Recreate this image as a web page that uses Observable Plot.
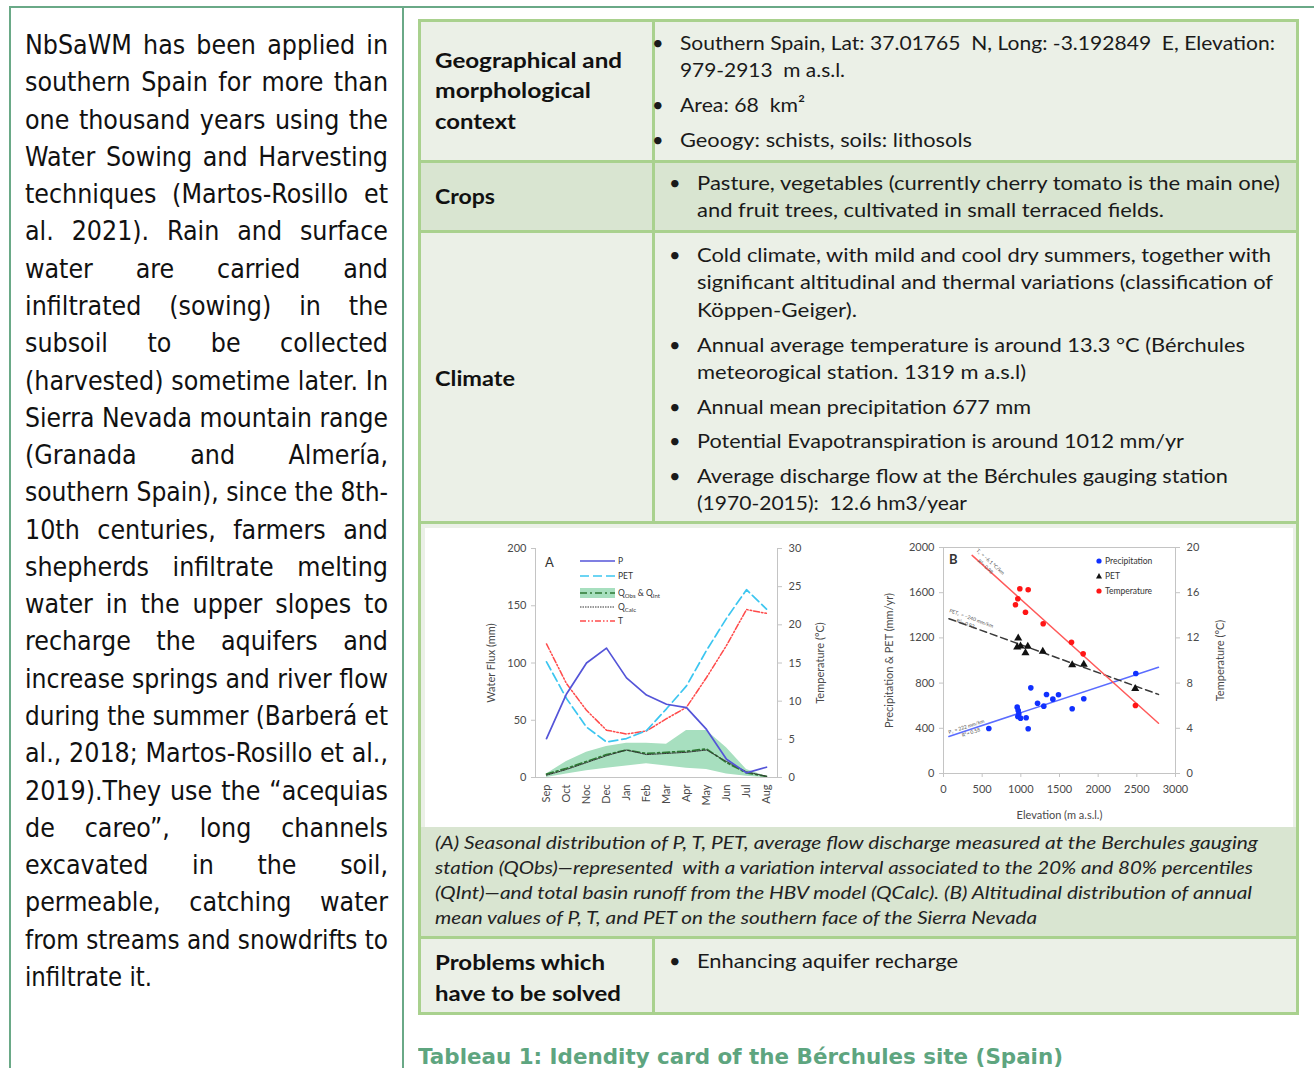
<!DOCTYPE html>
<html><head><meta charset="utf-8">
<script src="https://cdn.jsdelivr.net/npm/d3@7"></script>
<script src="https://cdn.jsdelivr.net/npm/@observablehq/plot@0.6"></script>
<style>
html,body{margin:0;padding:0;background:#fff;}
#page{position:relative;width:1314px;height:1068px;overflow:hidden;background:#fff;}
.a{position:absolute;}
.ln{position:absolute;white-space:nowrap;transform-origin:0 50%;}
.para{font-family:"DejaVu Sans",sans-serif;font-stretch:condensed;font-size:26.5px;color:#111;}
.reg{font-family:Lato,sans-serif;font-size:20px;color:#1a1a1a;}
.bold{font-family:Lato,sans-serif;font-weight:700;font-size:21px;color:#111;}
.ital{font-family:Lato,sans-serif;font-style:italic;font-size:18px;color:#222;}
.ttl{font-family:"DejaVu Sans",sans-serif;font-weight:700;font-size:22px;color:#5ea57f;}
.hl{position:absolute;background:#a9d18e;}
.pl{position:absolute;background:#6aa987;}
</style></head>
<body><div id="page"></div>
<script>
// ---------- Chart A data (seasonal) ----------
const months = ["Sep","Oct","Noc","Dec","Jan","Feb","Mar","Apr","May","Jun","Jul","Aug"];
const P_mm   = [34, 73, 100, 113, 87, 72, 64, 61, 42, 16, 4, 9];
const PET_mm = [101, 69, 44, 31, 34, 41, 60, 80, 111, 139, 164, 147];
const T_c    = [17.5, 12.3, 8.8, 6.2, 5.7, 6.1, 7.7, 9.2, 13.1, 17.3, 22.0, 21.5];
const Q_obs  = [3, 8, 14, 20, 24, 21, 22, 23, 25, 13, 4, 1];
const Q_calc = [2, 7, 13, 19, 24, 20, 21, 22, 24, 14, 5, 1];
const Q_int_lo = [0, 3, 6, 8, 10, 12, 10, 8, 7, 3, 1, 0];
const Q_int_hi = [3, 14, 22, 27, 30, 30, 29, 41, 41, 26, 7, 1];
const fluxTicks = [0, 50, 100, 150, 200];
const tempTicksA = [0, 5, 10, 15, 20, 25, 30];

// ---------- Chart B data (altitudinal) ----------
const precipElev = [586, 953, 966, 974, 961, 996, 1069, 1095, 1129, 1216, 1297, 1332, 1414, 1487, 1664, 1814, 2487];
const precipVal  = [398, 587, 558, 528, 504, 490, 493, 396, 758, 622, 596, 699, 658, 697, 573, 661, 885];
const petElev = [966, 953, 996, 1090, 1060, 1284, 1664, 1814, 2479];
const petVal  = [1197, 1118, 1127, 1124, 1068, 1080, 962, 965, 750];
const tempElev = [987, 1095, 961, 931, 1060, 1289, 1655, 1806, 2482];
const tempVal  = [16.35, 16.26, 15.46, 14.93, 14.27, 13.25, 11.62, 10.59, 6.02];
const precipTrendElev = [70, 2780], precipTrendVal = [328, 940];
const petTrendElev = [70, 2780],    petTrendVal = [1370, 700];
const tempTrendElev = [370, 2780],  tempTrendVal = [19.3, 4.45];
const elevTicks = [0, 500, 1000, 1500, 2000, 2500, 3000];
const ppTicks = [0, 400, 800, 1200, 1600, 2000];
const tempTicksB = [0, 4, 8, 12, 16, 20];

// ---------- text ----------
const paraLines = [
"NbSaWM has been applied in","southern Spain for more than","one thousand years using the",
"Water Sowing and Harvesting","techniques (Martos-Rosillo et","al. 2021). Rain and surface",
"water are carried and","infiltrated (sowing) in the","subsoil to be collected",
"(harvested) sometime later. In","Sierra Nevada mountain range","(Granada and Almería,",
"southern Spain), since the 8th-","10th centuries, farmers and","shepherds infiltrate melting",
"water in the upper slopes to","recharge the aquifers and","increase springs and river flow",
"during the summer (Barberá et","al., 2018; Martos-Rosillo et al.,","2019).They use the “acequias",
"de careo”, long channels","excavated in the soil,","permeable, catching water",
"from streams and snowdrifts to","infiltrate it."];

const page = document.getElementById("page");
function box(cls, x, y, w, h, bg) {
  const d = document.createElement("div");
  d.className = cls; d.style.left = x+"px"; d.style.top = y+"px";
  d.style.width = w+"px"; d.style.height = h+"px";
  if (bg) d.style.background = bg;
  page.appendChild(d); return d;
}
function addLine(html, cls, x, cy, w, justify) {
  const el = document.createElement("div");
  el.className = "ln " + cls;
  el.innerHTML = html;
  page.appendChild(el);
  const fs = parseFloat(getComputedStyle(el).fontSize);
  const lh = Math.round(fs * 1.3);
  el.style.lineHeight = lh + "px"; el.style.height = lh + "px";
  el.style.left = x + "px"; el.style.top = (cy - lh / 2) + "px";
  if (w) {
    const w0 = el.getBoundingClientRect().width;
    const gaps = el.textContent.trim().split(/\s+/).length - 1;
    if (justify && w0 < w && gaps > 0) el.style.wordSpacing = ((w - w0) / gaps) + "px";
    else el.style.transform = `scaleX(${w / w0})`;
  }
  return el;
}

// page borders
box("pl", 10, 6, 1304, 2);
box("pl", 9, 6, 2, 1062);
box("pl", 402, 6, 2, 1062);

// left paragraph
paraLines.forEach((t, i) => {
  const last = i === paraLines.length - 1;
  addLine(t, "para", 25, 45 + i * 37.28, last ? 127 : 363, !last);
});

// table backgrounds
const L = 418, R = 1297, C = 652;
const light = "#ebf0e7", dark = "#d9e5d1";
box("a", L, 19, R - L, 141, light);
box("a", L, 160, R - L, 70, dark);
box("a", L, 230, R - L, 292, light);
box("a", L, 522, R - L, 306, light);
box("a", 425, 528, 868, 299, "#ffffff");
box("a", L, 827, R - L, 110, dark);
box("a", L, 937, R - L, 76, light);
// table borders
[19, 160, 230, 521, 936, 1012].forEach(y => box("hl", L, y, R - L + 2, 2.5));
box("hl", L, 19, 2.5, 995);
box("hl", R - 1, 19, 2.5, 995);
box("hl", C, 19, 2.5, 503);
box("hl", C, 937, 2.5, 76);

// row 1
addLine("Geographical and", "bold", 435, 59, 187);
addLine("morphological", "bold", 435, 89, 156);
addLine("context", "bold", 435, 120, 81);
addLine("•", "reg", 652, 42);
addLine("Southern Spain, Lat: 37.01765&nbsp; N, Long: -3.192849&nbsp; E, Elevation:", "reg", 680, 42, 595);
addLine("979-2913&nbsp; m a.s.l.", "reg", 680, 69, 165);
addLine("•", "reg", 652, 104);
addLine("Area: 68&nbsp; km²", "reg", 680, 104, 125);
addLine("•", "reg", 652, 139);
addLine("Geoogy: schists, soils: lithosols", "reg", 680, 139, 292);
// row 2
addLine("Crops", "bold", 435, 195, 60);
addLine("•", "reg", 669, 182);
addLine("Pasture, vegetables (currently cherry tomato is the main one)", "reg", 697, 182, 583);
addLine("and fruit trees, cultivated in small terraced fields.", "reg", 697, 209, 467);
// row 3
addLine("Climate", "bold", 435, 377, 80);
[254, 344, 406, 440, 475].forEach(y => addLine("•", "reg", 669, y));
addLine("Cold climate, with mild and cool dry summers, together with", "reg", 697, 254, 574);
addLine("significant altitudinal and thermal variations (classification of", "reg", 697, 281, 576);
addLine("Köppen-Geiger).", "reg", 697, 309, 160);
addLine("Annual average temperature is around 13.3 °C (Bérchules", "reg", 697, 344, 548);
addLine("meteorogical station. 1319 m a.s.l)", "reg", 697, 371, 329);
addLine("Annual mean precipitation 677 mm", "reg", 697, 406, 334);
addLine("Potential Evapotranspiration is around 1012 mm/yr", "reg", 697, 440, 487);
addLine("Average discharge flow at the Bérchules gauging station", "reg", 697, 475, 531);
addLine("(1970-2015):&nbsp; 12.6 hm3/year", "reg", 697, 502, 270);
// caption
addLine("(A) Seasonal distribution of P, T, PET, average flow discharge measured at the Berchules gauging", "ital", 435, 842, 823);
addLine("station (QObs)—represented&nbsp; with a variation interval associated to the 20% and 80% percentiles", "ital", 435, 867, 818);
addLine("(QInt)—and total basin runoff from the HBV model (QCalc). (B) Altitudinal distribution of annual", "ital", 435, 892, 817);
addLine("mean values of P, T, and PET on the southern face of the Sierra Nevada", "ital", 435, 917, 602);
// problems
addLine("Problems which", "bold", 435, 961, 170);
addLine("have to be solved", "bold", 435, 992, 186);
addLine("•", "reg", 669, 960);
addLine("Enhancing aquifer recharge", "reg", 697, 960, 261);
// title
addLine("Tableau 1: Idendity card of the Bérchules site (Spain)", "ttl", 418, 1056, 645);

// ---------- Chart A ----------
const dataA = months.map((m, i) => ({m, p: P_mm[i], pet: PET_mm[i], t: T_c[i], qobs: Q_obs[i], qcalc: Q_calc[i], lo: Q_int_lo[i], hi: Q_int_hi[i]}));
const axisStyle = {fontFamily: "Lato, sans-serif", fontSize: "11px", color: "#4a4a4a", background: "transparent", overflow: "visible"};
const chartA = Plot.plot({
  width: 370, height: 280,
  marginLeft: 65, marginRight: 63, marginTop: 13, marginBottom: 38,
  style: axisStyle,
  x: {type: "point", domain: months, padding: 0.5},
  y: {domain: [0, 200]},
  marks: [
    Plot.areaY(dataA, {x: "m", y1: "lo", y2: "hi", fill: "#a7dfbf"}),
    Plot.line(dataA, {x: "m", y: "qobs", stroke: "#2e7a34", strokeWidth: 1.7, strokeDasharray: "7,3,2,3"}),
    Plot.line(dataA, {x: "m", y: "qcalc", stroke: "#333", strokeWidth: 1, strokeDasharray: "1.5,1"}),
    Plot.line(dataA, {x: "m", y: d => d.t * 200 / 30, stroke: "#ff4b4b", strokeWidth: 1.5, strokeDasharray: "6,2,1.5,2,1.5,2"}),
    Plot.line(dataA, {x: "m", y: "pet", stroke: "#3cc6f0", strokeWidth: 1.7, strokeDasharray: "9,4"}),
    Plot.line(dataA, {x: "m", y: "p", stroke: "#5454d8", strokeWidth: 1.7}),
    Plot.frame({anchor: "left", stroke: "#c4c4c4"}),
    Plot.frame({anchor: "right", stroke: "#c4c4c4"}),
    Plot.frame({anchor: "bottom", stroke: "#c4c4c4"}),
    Plot.axisY(fluxTicks, {anchor: "left", tickSize: 4, tickPadding: 5, stroke: "#c4c4c4", label: "Water Flux (mm)", labelAnchor: "center", labelArrow: "none", labelOffset: 48}),
    Plot.axisY(tempTicksA.map(t => t * 200 / 30), {anchor: "right", tickSize: 4, tickPadding: 7, stroke: "#c4c4c4", tickFormat: d => Math.round(d * 30 / 200), label: "Temperature (°C)", labelAnchor: "center", labelArrow: "none", labelOffset: 46}),
    Plot.axisX({tickRotate: -90, tickSize: 0, tickPadding: 7, label: null, fontSize: 11})
  ]
});
const hostA = box("a", 470, 535, 370, 280);
hostA.appendChild(chartA);

// ---------- Chart B ----------
const precip = precipElev.map((e, i) => ({e, v: precipVal[i]}));
const pet = petElev.map((e, i) => ({e, v: petVal[i]}));
const temp = tempElev.map((e, i) => ({e, v: tempVal[i]}));
const trendP = precipTrendElev.map((e, i) => ({e, v: precipTrendVal[i]}));
const trendPET = petTrendElev.map((e, i) => ({e, v: petTrendVal[i]}));
const trendT = tempTrendElev.map((e, i) => ({e, v: tempTrendVal[i]}));
const chartB = Plot.plot({
  width: 370, height: 290,
  marginLeft: 73, marginRight: 65, marginTop: 12, marginBottom: 52,
  style: axisStyle,
  x: {domain: [0, 3000]},
  y: {domain: [0, 2000]},
  marks: [
    Plot.frame({stroke: "#c4c4c4"}),
    Plot.line(trendP, {x: "e", y: "v", stroke: "#5a6cff", strokeWidth: 1.5}),
    Plot.line(trendPET, {x: "e", y: "v", stroke: "#3a3a3a", strokeWidth: 1.5, strokeDasharray: "7,4"}),
    Plot.line(trendT, {x: "e", y: d => d.v * 100, stroke: "#ff5a5a", strokeWidth: 1.5}),
    Plot.dot(precip, {x: "e", y: "v", fill: "#1030ff", r: 2.8}),
    Plot.dot(pet, {x: "e", y: "v", symbol: "triangle", fill: "#111", r: 3}),
    Plot.dot(temp, {x: "e", y: d => d.v * 100, fill: "#ff1515", r: 2.8}),
    Plot.axisX(elevTicks, {tickSize: 4, tickPadding: 8, stroke: "#c4c4c4", tickFormat: d => String(d), label: "Elevation (m a.s.l.)", labelAnchor: "center", labelArrow: "none", labelOffset: 45}),
    Plot.axisY(ppTicks, {anchor: "left", tickSize: 4, tickPadding: 5, stroke: "#c4c4c4", tickFormat: d => String(d), label: "Precipitation & PET (mm/yr)", labelAnchor: "center", labelArrow: "none", labelOffset: 58}),
    Plot.axisY(tempTicksB.map(t => t * 100), {anchor: "right", tickSize: 4, tickPadding: 7, stroke: "#c4c4c4", tickFormat: d => String(d / 100), label: "Temperature (°C)", labelAnchor: "center", labelArrow: "none", labelOffset: 48})
  ]
});
const hostB = box("a", 870, 535, 370, 290);
hostB.appendChild(chartB);

// ---------- legends / panel labels (overlays) ----------
const ov = document.createElement("div");
ov.className = "a"; ov.style.left = "0px"; ov.style.top = "0px";
ov.innerHTML = `
<div class="a" style="left:545px;top:554px;font:13px Lato,sans-serif;color:#333">A</div>
<svg class="a" style="left:578px;top:553px;overflow:visible" width="100" height="75" font-family="Lato,sans-serif" font-size="8.5" fill="#333">
  <line x1="2" x2="37" y1="8" y2="8" stroke="#5454d8" stroke-width="1.7"/>
  <text x="40" y="8" dy="0.35em">P</text>
  <line x1="2" x2="37" y1="23" y2="23" stroke="#3cc6f0" stroke-width="1.7" stroke-dasharray="9,4"/>
  <text x="40" y="23" dy="0.35em">PET</text>
  <rect x="2" y="35" width="35" height="10" fill="#a7dfbf"/>
  <line x1="2" x2="37" y1="40" y2="40" stroke="#2e7a34" stroke-width="1.7" stroke-dasharray="7,3,2,3"/>
  <text x="40" y="40" dy="0.35em">Q<tspan font-size="6" dy="2">Obs</tspan><tspan dy="-2"> &amp; Q</tspan><tspan font-size="6" dy="2">Int</tspan></text>
  <line x1="2" x2="37" y1="54" y2="54" stroke="#333" stroke-width="1" stroke-dasharray="1.5,1"/>
  <text x="40" y="54" dy="0.35em">Q<tspan font-size="6" dy="2">Calc</tspan></text>
  <line x1="2" x2="37" y1="68" y2="68" stroke="#ff4b4b" stroke-width="1.5" stroke-dasharray="6,2,1.5,2,1.5,2"/>
  <text x="40" y="68" dy="0.35em">T</text>
</svg>
<div class="a" style="left:949px;top:551px;font:bold 13px Lato,sans-serif;color:#333">B</div>
<svg class="a" style="left:1093px;top:553px;overflow:visible" width="90" height="45" font-family="Lato,sans-serif" font-size="8.5" fill="#333">
  <circle cx="6" cy="8" r="2.6" fill="#1030ff"/>
  <text x="12" y="8" dy="0.35em">Precipitation</text>
  <path d="M6,20 L9,25.5 L3,25.5 Z" fill="#111"/>
  <text x="12" y="23" dy="0.35em">PET</text>
  <circle cx="6" cy="38" r="2.6" fill="#ff1515"/>
  <text x="12" y="38" dy="0.35em">Temperature</text>
</svg>
<svg class="a" style="left:940px;top:545px;overflow:visible" width="80" height="220" font-family="Lato,sans-serif" font-size="5" fill="#555">
  <g transform="translate(36,6) rotate(42)"><text>T꜀ = −6.1 °C/km</text><text x="8" y="7">R²= 0.98</text></g>
  <g transform="translate(9,67) rotate(20)"><text>PET꜀ = −240 mm/km</text><text x="10" y="7">R²= 0.92</text></g>
  <g transform="translate(9,189) rotate(-18)"><text>P꜀ = 222 mm/km</text><text x="12" y="7">R²= 0.58</text></g>
</svg>`;
page.appendChild(ov);
</script>
</body></html>
